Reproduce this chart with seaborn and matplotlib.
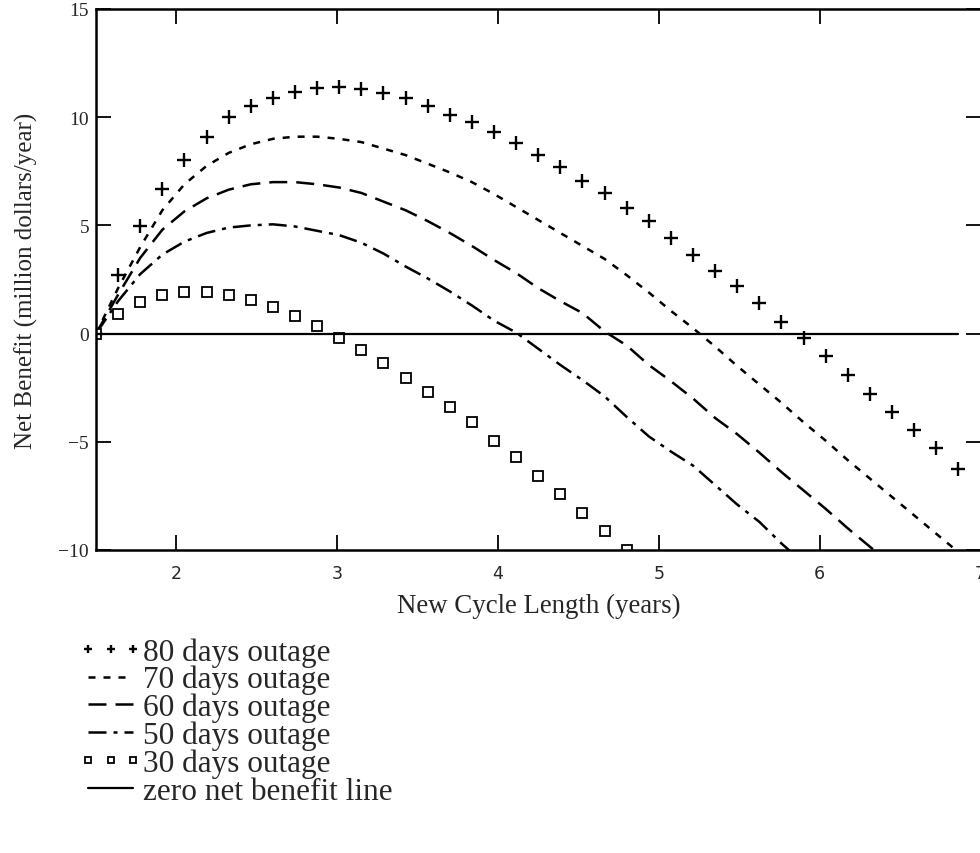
import numpy as np
import pandas as pd
import matplotlib
matplotlib.use("Agg")
import matplotlib.pyplot as plt
import seaborn as sns

# ---- data ----
cycle_length = [1.5, 1.6375, 1.775, 1.9125, 2.05, 2.1875, 2.325, 2.4625, 2.6, 2.7375,
                2.875, 3.0125, 3.15, 3.2875, 3.425, 3.5625, 3.7, 3.8375, 3.975, 4.1125,
                4.25, 4.3875, 4.525, 4.6625, 4.8, 4.9375, 5.075, 5.2125, 5.35, 5.4875,
                5.625, 5.7625, 5.9, 6.0375, 6.175, 6.3125, 6.45, 6.5875, 6.725, 6.8625]

outage_80 = [0, 2.7, 4.95, 6.7, 8.0, 9.1, 10.0, 10.5, 10.9, 11.15,
             11.35, 11.4, 11.3, 11.1, 10.9, 10.5, 10.1, 9.8, 9.3, 8.8,
             8.25, 7.7, 7.05, 6.5, 5.8, 5.2, 4.4, 3.65, 2.9, 2.2,
             1.4, 0.55, -0.2, -1.05, -1.9, -2.8, -3.6, -4.45, -5.3, -6.25]

outage_70 = [0, 2.1, 4.0, 5.7, 6.9, 7.75, 8.35, 8.75, 9.0, 9.1,
             9.1, 9.0, 8.85, 8.55, 8.25, 7.85, 7.45, 7.0, 6.45, 5.85,
             5.25, 4.65, 4.05, 3.45, 2.7, 1.9, 1.05, 0.25, -0.6, -1.5,
             -2.35, -3.2, -4.1, -4.95, -5.85, -6.7, -7.55, -8.4, -9.25, -10.1]

outage_60 = [0, 1.8, 3.5, 4.8, 5.65, 6.25, 6.65, 6.9, 7.0, 7.0,
             6.9, 6.75, 6.5, 6.1, 5.7, 5.2, 4.65, 4.05, 3.4, 2.8,
             2.1, 1.5, 0.95, 0.1, -0.55, -1.45, -2.2, -3.0, -3.9, -4.65,
             -5.5, -6.4, -7.25, -8.1, -9.0, -9.85, -10.7]

outage_50 = [0, 1.5, 2.75, 3.65, 4.25, 4.65, 4.9, 5.0, 5.05, 4.95,
             4.75, 4.55, 4.2, 3.7, 3.1, 2.55, 1.95, 1.3, 0.6, 0.05,
             -0.7, -1.45, -2.15, -2.9, -3.85, -4.75, -5.45, -6.1, -7.0, -7.9,
             -8.7, -9.7, -10.6]

outage_30 = [0, 0.9, 1.45, 1.8, 1.9, 1.9, 1.8, 1.57, 1.25, 0.83,
             0.37, -0.2, -0.74, -1.35, -2.04, -2.7, -3.4, -4.1, -4.95, -5.7,
             -6.6, -7.4, -8.3, -9.1, -10.0]

zero_line = [0.0] * len(cycle_length)

labels = ["80 days outage", "70 days outage", "60 days outage",
          "50 days outage", "30 days outage", "zero net benefit line"]
x_ticks = [2, 3, 4, 5, 6, 7]
y_ticks = [-10, -5, 0, 5, 10, 15]

# ---- style ----
sns.set_style("white")
plt.rcParams["font.family"] = ["Liberation Serif", "DejaVu Serif"]
plt.rcParams["axes.unicode_minus"] = True

fig = plt.figure(figsize=(9.8, 8.54), dpi=100)
ax = fig.add_axes([96 / 980, (854 - 551) / 854, (980.5 - 96) / 980, 541 / 854])

def series(vals):
    return pd.DataFrame({"x": cycle_length[:len(vals)], "y": vals})

handles = []
d = series(outage_80)
sns.lineplot(data=d, x="x", y="y", ax=ax, color="black", linestyle="", marker="+",
             markersize=10, markeredgewidth=1.7, markeredgecolor="black",
             sort=False, errorbar=None)
handles.append(ax.lines[-1])

d = series(outage_70)
sns.lineplot(data=d, x="x", y="y", ax=ax, color="black", linewidth=1.8,
             linestyle=(0, (2.8, 3.2)), sort=False, errorbar=None)
handles.append(ax.lines[-1])

d = series(outage_60)
sns.lineplot(data=d, x="x", y="y", ax=ax, color="black", linewidth=1.8,
             linestyle=(0, (7.2, 3.6)), sort=False, errorbar=None)
handles.append(ax.lines[-1])

d = series(outage_50)
sns.lineplot(data=d, x="x", y="y", ax=ax, color="black", linewidth=1.8,
             linestyle=(0, (7.2, 2.8, 1.6, 2.8)), sort=False, errorbar=None)
handles.append(ax.lines[-1])

d = series(outage_30)
sns.lineplot(data=d, x="x", y="y", ax=ax, color="black", linestyle="", marker="s",
             markersize=6.5, markerfacecolor="white", markeredgecolor="black",
             markeredgewidth=1.3, sort=False, errorbar=None)
handles.append(ax.lines[-1])

d = series(zero_line)
sns.lineplot(data=d, x="x", y="y", ax=ax, color="black", linewidth=1.6,
             sort=False, errorbar=None)
handles.append(ax.lines[-1])

ax.set_xlim(1.5, 7)
ax.set_ylim(-10, 15)
ax.set_xticks(x_ticks)
ax.set_yticks(y_ticks)
ax.set_xticklabels([str(v) for v in x_ticks], family="DejaVu Sans", fontsize=12.5)
ax.set_yticklabels([("\u2212" + str(-v)) if v < 0 else str(v) for v in y_ticks],
                   fontsize=14)
ax.tick_params(direction="in", length=11, width=1.3, top=True, right=True,
               bottom=True, left=True, color="black")
ax.tick_params(axis="x", pad=10)
ax.tick_params(axis="y", pad=5)
for s in ax.spines.values():
    s.set_visible(True)
    s.set_color("black")
    s.set_linewidth(1.8)

ax.set_xlabel("New Cycle Length (years)", fontsize=19.4)
ax.set_ylabel("Net Benefit (million dollars/year)", fontsize=18)
ax.xaxis.set_label_coords(0.5, -0.079)
ax.yaxis.set_label_coords(-0.066, 0.50)

leg = fig.legend(handles, labels, loc="upper left",
                 bbox_to_anchor=(79 / 980, 1 - 638 / 854), frameon=False,
                 fontsize=22.5, handlelength=2.02, handletextpad=0.03,
                 labelspacing=-0.05, borderpad=0, borderaxespad=0,
                 numpoints=3, markerscale=0.6)

fig.savefig("out.png", dpi=100)
